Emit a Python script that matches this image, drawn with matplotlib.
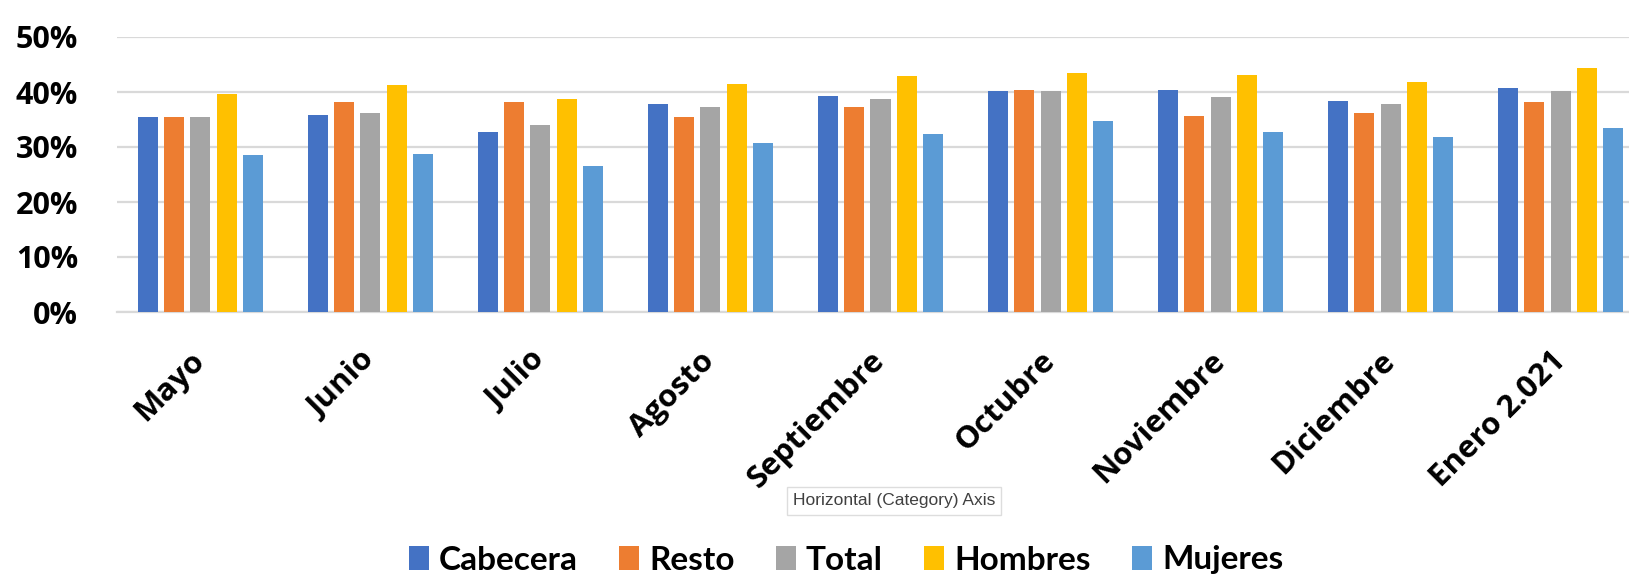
import matplotlib
matplotlib.use("Agg")
import matplotlib.pyplot as plt
import numpy as np
from matplotlib.patches import Patch

categories = ["Mayo", "Junio", "Julio", "Agosto", "Septiembre", "Octubre",
              "Noviembre", "Diciembre", "Enero 2.021"]
series_names = ["Cabecera", "Resto", "Total", "Hombres", "Mujeres"]
cabecera = [35.4, 35.9, 32.7, 37.8, 39.3, 40.1, 40.4, 38.4, 40.7]
resto = [35.4, 38.1, 38.1, 35.4, 37.3, 40.4, 35.6, 36.1, 38.1]
total = [35.4, 36.1, 34.0, 37.3, 38.7, 40.1, 39.1, 37.8, 40.1]
hombres = [39.6, 41.3, 38.7, 41.5, 42.9, 43.4, 43.1, 41.8, 44.4]
mujeres = [28.5, 28.7, 26.5, 30.7, 32.3, 34.8, 32.8, 31.9, 33.4]
yticks = [0, 10, 20, 30, 40, 50]
ytick_labels = ["0%", "10%", "20%", "30%", "40%", "50%"]

colors = ["#4472C4", "#ED7D31", "#A5A5A5", "#FFC000", "#5B9BD5"]
data = [cabecera, resto, total, hombres, mujeres]

W, H = 1629, 577
fig = plt.figure(figsize=(W / 100, H / 100), dpi=100)
ax_left, ax_right = 117 / W, 1644 / W
ax_bottom, ax_top = (H - 312) / H, (H - 37) / H
ax = fig.add_axes([ax_left, ax_bottom, ax_right - ax_left, ax_top - ax_bottom])

x = np.arange(len(categories))
pitch = 0.1544
width = 0.118
for i, (vals, c) in enumerate(zip(data, colors)):
    ax.bar(x + (i - 2) * pitch, vals, width=width, color=c, zorder=3)

ax.set_xlim(-0.49, 8.49)
ax.set_ylim(0, 50)
ax.set_yticks(yticks)
ax.set_yticklabels(ytick_labels, fontsize=22, fontweight="bold", family=["Open Sans", "DejaVu Sans"])
ax.yaxis.grid(True, color="#D9D9D9", linewidth=1.6, zorder=0)
ax.set_axisbelow(True)
for s in ["left", "right", "top"]:
    ax.spines[s].set_visible(False)
ax.spines["bottom"].set_color("#D9D9D9")
ax.spines["bottom"].set_linewidth(1.6)
ax.tick_params(axis="y", length=0, pad=28)
ax.tick_params(axis="x", length=0, pad=32)
ax.set_xticks(x)
ax.set_xticklabels(categories, fontsize=22.5, fontweight="bold", family=["Open Sans", "DejaVu Sans"],
                   rotation=45, ha="right", va="center", rotation_mode="anchor")

handles = [Patch(facecolor=c, edgecolor="none") for c in colors]
fig.legend(handles, series_names, loc="center", bbox_to_anchor=(846 / W, (H - 560) / H),
           ncol=5, frameon=False, prop={"family": "Lato", "weight": "bold", "size": 24},
           handlelength=0.6, handleheight=0.7, handletextpad=0.3, columnspacing=1.24,
           borderaxespad=0, borderpad=0)

fig.text(894 / W, (H - 501) / H, "Horizontal (Category) Axis", ha="center", va="center",
         fontsize=12.5, family="Liberation Sans", color="#404040",
         bbox=dict(boxstyle="square,pad=0.35", facecolor="white", edgecolor="#DDDDDD",
                   linewidth=1))

fig.savefig("out.png", dpi=100)
